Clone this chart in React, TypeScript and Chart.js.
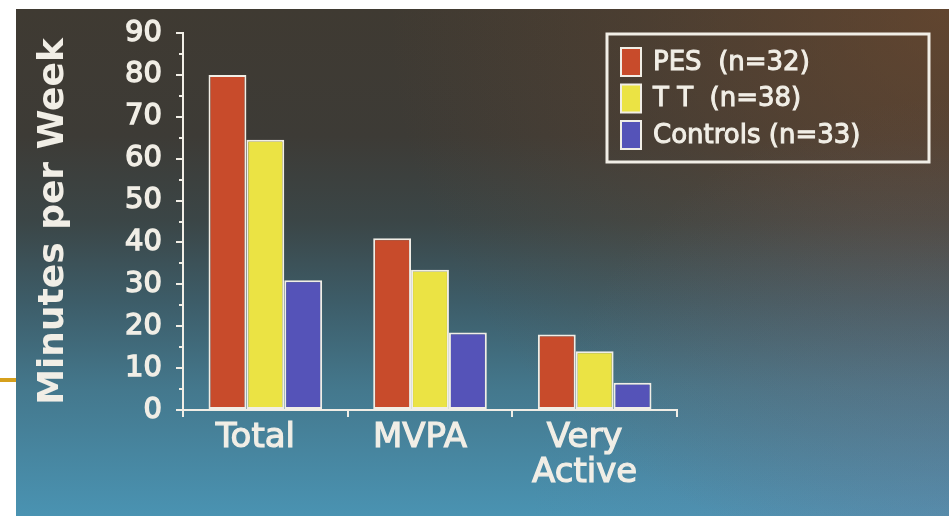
import React, { useEffect, useRef } from "react";
import { Chart, registerables } from "chart.js";

Chart.register(...registerables);

// Activity categories along the x axis
const categories: (string | string[])[] = ["Total", "MVPA", ["Very", "Active"]];

// Minutes per week for each group
const pesValues = [80, 41, 18];
const ttValues = [64.5, 33.5, 14];
const controlValues = [31, 18.5, 6.5];

const seriesLabels = ["PES  (n=32)", "T T  (n=38)", "Controls (n=33)"];
const seriesColors = ["#c84b2b", "#ebe344", "#5553b8"];

// Axis ticks
const yTickValues = [0, 10, 20, 30, 40, 50, 60, 70, 80, 90];
const yMinorTickValues = [5, 15, 25, 35, 45, 55, 65, 75, 85];

const FONT = "'DejaVu Sans', Verdana, sans-serif";
const INK = "#f1eee6";

// Slide backdrop: white page, small gold rule and the graded slide surface
const backdropPlugin = {
  id: "backdrop",
  beforeDraw(chart: any) {
    const { ctx, width, height } = chart;
    ctx.save();
    ctx.fillStyle = "#ffffff";
    ctx.fillRect(0, 0, width, height);

    const x0 = 16;
    const y0 = 9;
    const g = ctx.createLinearGradient(0, y0, 0, height);
    g.addColorStop(0, "#3f3a32");
    g.addColorStop(0.25, "#3d3b36");
    g.addColorStop(0.42, "#3b4647");
    g.addColorStop(0.58, "#3d5d69");
    g.addColorStop(0.75, "#44788d");
    g.addColorStop(1, "#4a93b2");
    ctx.fillStyle = g;
    ctx.fillRect(x0, y0, width - x0, height - y0);

    // warmer brown towards the upper right
    const warm = ctx.createRadialGradient(width, y0, 0, width, y0, 560);
    warm.addColorStop(0, "rgba(125,78,45,0.55)");
    warm.addColorStop(0.55, "rgba(125,78,45,0.2)");
    warm.addColorStop(1, "rgba(125,78,45,0)");
    ctx.fillStyle = warm;
    ctx.fillRect(x0, y0, width - x0, height - y0);

    // slightly greyer blue towards the lower right
    const cool = ctx.createRadialGradient(width, height, 0, width, height, 420);
    cool.addColorStop(0, "rgba(120,125,165,0.25)");
    cool.addColorStop(1, "rgba(120,125,165,0)");
    ctx.fillStyle = cool;
    ctx.fillRect(x0, y0, width - x0, height - y0);

    ctx.fillStyle = "#d6a01c";
    ctx.fillRect(0, 378, x0, 4);
    ctx.restore();
  },
};

// Short minor ticks between the labelled y ticks
const minorTickPlugin = {
  id: "minorTicks",
  afterDraw(chart: any) {
    const { ctx, scales, chartArea } = chart;
    ctx.save();
    ctx.strokeStyle = INK;
    ctx.lineWidth = 2;
    for (const v of yMinorTickValues) {
      const y = Math.round(scales.y.getPixelForValue(v));
      ctx.beginPath();
      ctx.moveTo(chartArea.left - 4, y);
      ctx.lineTo(chartArea.left, y);
      ctx.stroke();
    }
    ctx.restore();
  },
};

// Framed legend in the upper right
const legendBoxPlugin = {
  id: "legendBox",
  afterDraw(chart: any) {
    const { ctx } = chart;
    const boxX = 607;
    const boxY = 34;
    const boxW = 322;
    const boxH = 128;
    ctx.save();
    ctx.strokeStyle = INK;
    ctx.lineWidth = 3;
    ctx.strokeRect(boxX, boxY, boxW, boxH);

    ctx.font = `26px ${FONT}`;
    ctx.textBaseline = "middle";
    ctx.textAlign = "left";
    chart.data.datasets.forEach((ds: any, i: number) => {
      const cy = 62 + i * 36.5;
      ctx.fillStyle = ds.backgroundColor;
      ctx.fillRect(621, cy - 14, 20, 28);
      ctx.lineWidth = 2;
      ctx.strokeStyle = INK;
      ctx.strokeRect(621, cy - 14, 20, 28);
      ctx.fillStyle = INK;
      ctx.lineWidth = 1;
      ctx.strokeText(ds.label, 653, cy + 1);
      ctx.fillText(ds.label, 653, cy + 1);
    });
    ctx.restore();
  },
};

export default function App() {
  const canvasRef = useRef<HTMLCanvasElement>(null);

  useEffect(() => {
    document.body.style.margin = "0";
    const canvas = canvasRef.current;
    if (!canvas) return;

    const values = [pesValues, ttValues, controlValues];
    const chart = new Chart(canvas, {
      type: "bar",
      data: {
        labels: categories,
        datasets: values.map((data, i) => ({
          label: seriesLabels[i],
          data,
          backgroundColor: seriesColors[i],
        })),
      },
      options: {
        responsive: false,
        animation: false,
        devicePixelRatio: 1,
        layout: { padding: { top: 33, right: 272, bottom: 0, left: 0 } },
        datasets: {
          bar: {
            categoryPercentage: 0.69,
            barPercentage: 1,
            borderColor: INK,
            borderWidth: 2,
            borderSkipped: false,
          },
        },
        plugins: {
          legend: { display: false },
          tooltip: { enabled: false },
        },
        scales: {
          x: {
            grid: {
              display: true,
              drawOnChartArea: false,
              offset: true,
              tickLength: 7,
              color: INK,
              lineWidth: 2,
            },
            border: { display: true, color: INK, width: 2 },
            ticks: {
              color: INK,
              textStrokeColor: INK,
              textStrokeWidth: 1.2,
              font: { family: FONT, size: 34, lineHeight: 1.03 },
              padding: 4,
              labelOffset: -10,
              maxRotation: 0,
              autoSkip: false,
            },
            afterFit(scale: any) {
              scale.height = 106;
            },
          },
          y: {
            min: 0,
            max: 90,
            afterBuildTicks(scale: any) {
              scale.ticks = yTickValues.map((value) => ({ value }));
            },
            grid: {
              display: true,
              drawOnChartArea: false,
              tickLength: 7,
              color: INK,
              lineWidth: 2,
            },
            border: { display: true, color: INK, width: 2 },
            ticks: {
              color: INK,
              textStrokeColor: INK,
              textStrokeWidth: 1.4,
              font: { family: FONT, size: 29 },
              padding: 14,
            },
            title: {
              display: true,
              text: "Minutes per Week",
              color: INK,
              font: { family: FONT, size: 36, weight: "bold" },
              padding: { top: 32, bottom: 0 },
            },
            afterFit(scale: any) {
              scale.width = 183;
            },
          },
        },
      },
      plugins: [backdropPlugin, minorTickPlugin, legendBoxPlugin],
    });

    return () => chart.destroy();
  }, []);

  return (
    <div style={{ width: 949, height: 516 }}>
      <canvas ref={canvasRef} width={949} height={516} style={{ display: "block" }} />
    </div>
  );
}
